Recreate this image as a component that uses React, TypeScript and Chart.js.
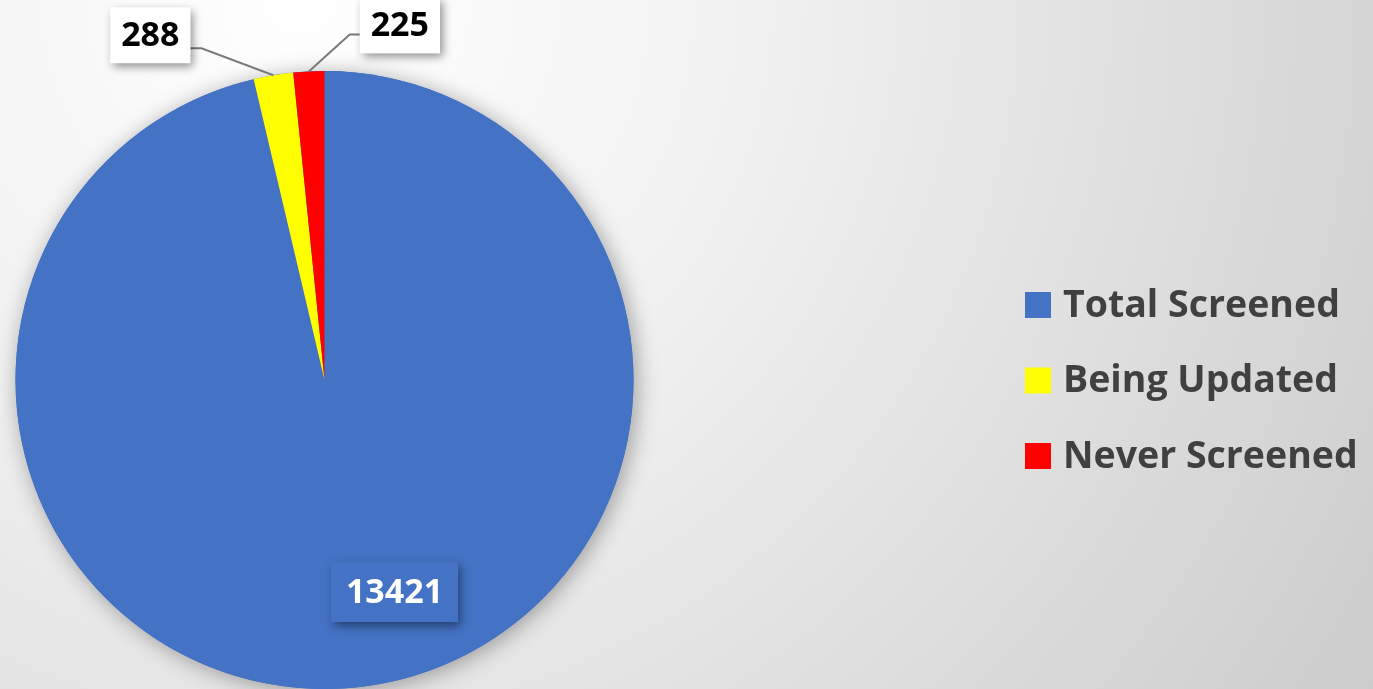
import React, { useEffect, useRef } from "react";
import { Chart, registerables } from "chart.js";

Chart.register(...registerables);

const categories = ["Total Screened", "Being Updated", "Never Screened"];
const values = [13421, 288, 225];
const sliceColors = ["#4472C4", "#FFFF00", "#FF0000"];
const labelTexts = values.map((v) => String(v));

const FONT = '"Open Sans", "DejaVu Sans", sans-serif';

const backgroundPlugin = {
  id: "bg",
  beforeDraw(chart: any) {
    const { ctx, width, height } = chart;
    ctx.save();
    const g = ctx.createRadialGradient(300, 0, 0, 300, 0, 1300);
    g.addColorStop(0, "#ffffff");
    g.addColorStop(0.35, "#f1f1f1");
    g.addColorStop(1, "#cbcbcb");
    ctx.fillStyle = g;
    ctx.fillRect(0, 0, width, height);
    ctx.restore();
  },
};

const pieShadowPlugin = {
  id: "pieShadow",
  beforeDatasetsDraw(chart: any) {
    const arc: any = chart.getDatasetMeta(0).data[0];
    if (!arc) return;
    const { ctx } = chart;
    ctx.save();
    ctx.shadowColor = "rgba(0,0,0,0.35)";
    ctx.shadowBlur = 22;
    ctx.shadowOffsetX = 3;
    ctx.shadowOffsetY = 3;
    ctx.fillStyle = sliceColors[0];
    ctx.beginPath();
    ctx.arc(arc.x, arc.y, arc.outerRadius, 0, Math.PI * 2);
    ctx.fill();
    ctx.restore();
  },
};

function drawBox(ctx: any, cx: number, cy: number, w: number, h: number, fill: string) {
  ctx.save();
  ctx.shadowColor = "rgba(0,0,0,0.45)";
  ctx.shadowBlur = 9;
  ctx.shadowOffsetX = 3;
  ctx.shadowOffsetY = 4;
  ctx.fillStyle = fill;
  ctx.fillRect(cx - w / 2, cy - h / 2, w, h);
  ctx.restore();
}

const labelPlugin = {
  id: "sliceLabels",
  afterDatasetsDraw(chart: any, _args: any, opts: any) {
    const { ctx } = chart;
    const meta = chart.getDatasetMeta(0);
    ctx.save();
    ctx.font = `bold ${opts.fontSize}px ${FONT}`;
    ctx.textAlign = "center";
    ctx.textBaseline = "middle";
    meta.data.forEach((arc: any, i: number) => {
      const cfg = opts.items[i];
      const text = labelTexts[i];
      const mid = (arc.startAngle + arc.endAngle) / 2;
      const ax = arc.x + Math.cos(mid) * arc.outerRadius;
      const ay = arc.y + Math.sin(mid) * arc.outerRadius;
      const tw = ctx.measureText(text).width;
      const w = tw + cfg.padX * 2;
      const h = cfg.h;
      if (cfg.inside) {
        const cx = arc.x + cfg.dx;
        const cy = arc.y + cfg.dy;
        drawBox(ctx, cx, cy, w, h, sliceColors[i]);
        ctx.fillStyle = "#ffffff";
        ctx.fillText(text, cx, cy + 1);
        return;
      }
      const cx = ax + cfg.dx;
      const cy = ay + cfg.dy;
      const edgeX = cfg.side === "right" ? cx + w / 2 : cx - w / 2;
      const elbowX = cfg.side === "right" ? edgeX + 11 : edgeX - 10;
      const lineY = ay + cfg.lineDy;
      ctx.save();
      ctx.strokeStyle = "#7a7a7a";
      ctx.lineWidth = 2;
      ctx.beginPath();
      ctx.moveTo(edgeX - (cfg.side === "right" ? 4 : -2), lineY);
      ctx.lineTo(elbowX, lineY);
      ctx.lineTo(ax, ay);
      ctx.stroke();
      ctx.restore();
      drawBox(ctx, cx, cy, w, h, "#ffffff");
      ctx.fillStyle = "#000000";
      ctx.fillText(text, cx, cy + 1);
    });
    ctx.restore();
  },
};

const customLegendPlugin = {
  id: "customLegend",
  afterDraw(chart: any, _args: any, opts: any) {
    const { ctx } = chart;
    const labels: string[] = chart.data.labels;
    const colors: string[] = chart.data.datasets[0].backgroundColor;
    ctx.save();
    ctx.font = `bold ${opts.fontSize}px ${FONT}`;
    ctx.textAlign = "left";
    ctx.textBaseline = "middle";
    labels.forEach((lab, i) => {
      const cy = opts.top + i * opts.spacing;
      ctx.fillStyle = colors[i];
      ctx.fillRect(opts.left, cy - opts.box / 2, opts.box, opts.box);
      ctx.fillStyle = "#404040";
      ctx.fillText(lab, opts.textLeft, cy + 1);
    });
    ctx.restore();
  },
};

export default function App() {
  const ref = useRef<HTMLCanvasElement>(null);
  useEffect(() => {
    if (!ref.current) return;
    const chart = new Chart(ref.current, {
      type: "pie",
      data: {
        labels: categories,
        datasets: [
          {
            data: values,
            backgroundColor: sliceColors,
            borderWidth: 0,
          },
        ],
      },
      options: {
        responsive: false,
        animation: false,
        layout: { padding: { top: 71, left: 14, right: 738, bottom: 0 } },
        plugins: {
          legend: { display: false },
          tooltip: { enabled: false },
          sliceLabels: {
            fontSize: 34,
            items: [
              { inside: true, dx: 70, dy: 212, padX: 15, h: 60 },
              { side: "right", dx: -123, dy: -40, lineDy: -27, padX: 11, h: 56 },
              { side: "left", dx: 91, dy: -46, lineDy: -37, padX: 11, h: 56 },
            ],
          },
          customLegend: {
            fontSize: 37.5,
            left: 1025,
            textLeft: 1063,
            top: 305,
            spacing: 75.5,
            box: 26,
          },
        } as any,
      },
      plugins: [backgroundPlugin, pieShadowPlugin, labelPlugin, customLegendPlugin],
    });
    return () => chart.destroy();
  }, []);
  return (
    <div style={{ position: "fixed", left: 0, top: 0, width: 1373, height: 689 }}>
      <canvas ref={ref} width={1373} height={689} style={{ display: "block" }} />
    </div>
  );
}
